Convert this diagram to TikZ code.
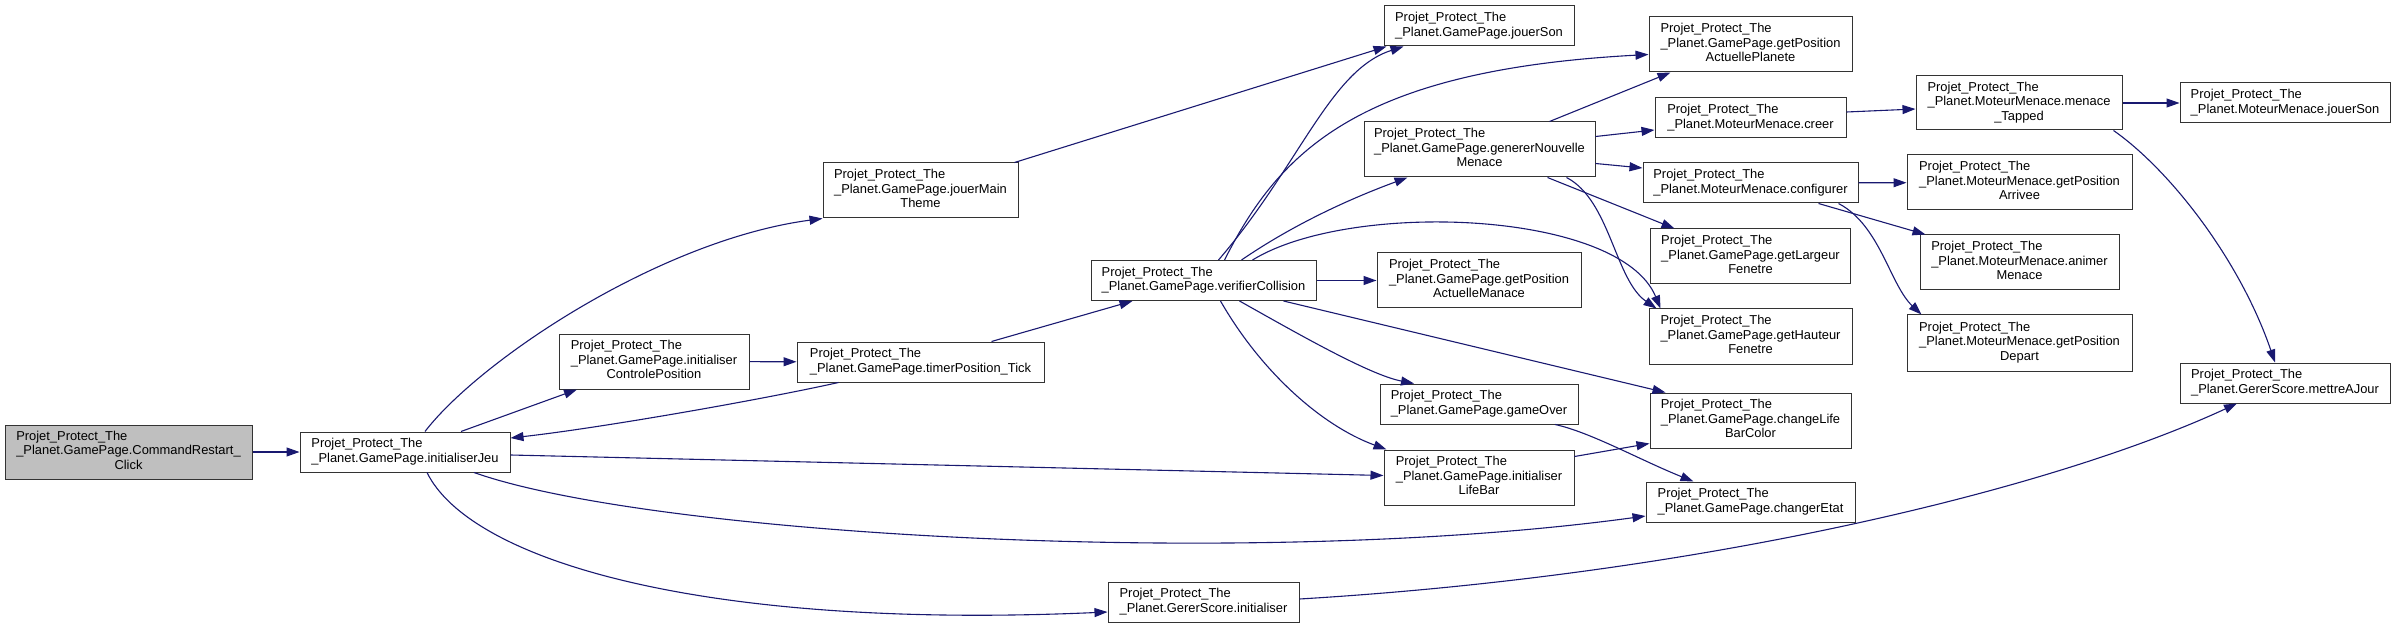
\documentclass[tikz,border=0pt]{standalone}
\usepackage{fontspec}
\setmainfont{Liberation Sans}
\usetikzlibrary{arrows.meta}
\definecolor{edgeblue}{HTML}{191970}
\definecolor{rootgray}{HTML}{BFBFBF}
\newcommand{\nameA}[1]{\begin{tabular}{@{}l@{}}Projet\_Protect\_The\\#1\end{tabular}}
\newcommand{\nameB}[2]{\begin{tabular}{@{}l@{}}Projet\_Protect\_The\\#1\\\multicolumn{1}{@{}c@{}}{#2}\end{tabular}}
\begin{document}
\begin{tikzpicture}[x=1pt,y=-1pt,
fn/.style={draw=black!80,fill=white,line width=1pt,inner sep=0pt,font=\fontsize{12.9}{14.4}\selectfont},
call/.style={draw=edgeblue,line width=1.1pt,-{Triangle[length=13pt,width=9pt]}}]
\useasboundingbox (0,0) rectangle (2396,628);
\node[fn,fill=rootgray,minimum width=247,minimum height=54] (crc) at (128.5,452) {\nameB{\_Planet.GamePage.CommandRestart\_}{Click}};
\node[fn,minimum width=210,minimum height=40] (ij) at (405,452) {\nameA{\_Planet.GamePage.initialiserJeu}};
\node[fn,minimum width=195,minimum height=55] (jmt) at (920.5,190.5) {\nameB{\_Planet.GamePage.jouerMain}{Theme}};
\node[fn,minimum width=190,minimum height=55] (icp) at (654,361.5) {\nameB{\_Planet.GamePage.initialiser}{ControlePosition}};
\node[fn,minimum width=247,minimum height=40] (tpt) at (920.5,362) {\nameA{\_Planet.GamePage.timerPosition\_Tick}};
\node[fn,minimum width=190,minimum height=40] (js) at (1479,26) {\nameA{\_Planet.GamePage.jouerSon}};
\node[fn,minimum width=231,minimum height=55] (gnm) at (1479.5,149.5) {\nameB{\_Planet.GamePage.genererNouvelle}{Menace}};
\node[fn,minimum width=225,minimum height=40] (vc) at (1203.5,280.5) {\nameA{\_Planet.GamePage.verifierCollision}};
\node[fn,minimum width=204,minimum height=55] (gpam) at (1479,280.5) {\nameB{\_Planet.GamePage.getPosition}{ActuelleManace}};
\node[fn,minimum width=198,minimum height=40] (go) at (1479,404) {\nameA{\_Planet.GamePage.gameOver}};
\node[fn,minimum width=190,minimum height=55] (ilb) at (1479,477.5) {\nameB{\_Planet.GamePage.initialiser}{LifeBar}};
\node[fn,minimum width=191,minimum height=40] (gsi) at (1203.5,602) {\nameA{\_Planet.GererScore.initialiser}};
\node[fn,minimum width=203,minimum height=55] (gpap) at (1750.5,44.5) {\nameB{\_Planet.GamePage.getPosition}{ActuellePlanete}};
\node[fn,minimum width=191,minimum height=40] (cr) at (1750.5,118) {\nameA{\_Planet.MoteurMenace.creer}};
\node[fn,minimum width=215,minimum height=40] (cf) at (1750.5,183) {\nameA{\_Planet.MoteurMenace.configurer}};
\node[fn,minimum width=200,minimum height=55] (glf) at (1750.5,256.5) {\nameB{\_Planet.GamePage.getLargeur}{Fenetre}};
\node[fn,minimum width=203,minimum height=55] (ghf) at (1750.5,336.5) {\nameB{\_Planet.GamePage.getHauteur}{Fenetre}};
\node[fn,minimum width=201,minimum height=55] (clbc) at (1750.5,420.5) {\nameB{\_Planet.GamePage.changeLife}{BarColor}};
\node[fn,minimum width=209,minimum height=40] (ce) at (1750.5,502) {\nameA{\_Planet.GamePage.changerEtat}};
\node[fn,minimum width=206,minimum height=54] (mt) at (2019,103) {\nameB{\_Planet.MoteurMenace.menace}{\_Tapped}};
\node[fn,minimum width=225,minimum height=55] (gpa) at (2019.5,182.5) {\nameB{\_Planet.MoteurMenace.getPosition}{Arrivee}};
\node[fn,minimum width=199,minimum height=55] (am) at (2019.5,262.5) {\nameB{\_Planet.MoteurMenace.animer}{Menace}};
\node[fn,minimum width=225,minimum height=56] (gpd) at (2019.5,343) {\nameB{\_Planet.MoteurMenace.getPosition}{Depart}};
\node[fn,minimum width=210,minimum height=40] (mjs) at (2285,103) {\nameA{\_Planet.MoteurMenace.jouerSon}};
\node[fn,minimum width=210,minimum height=40] (maj) at (2285,383) {\nameA{\_Planet.GererScore.mettreAJour}};
\draw[call] (crc) -- (ij);
\draw[call] ([xshift=20pt]ij.north) .. controls (480,360) and (660,240) .. (jmt.south west);
\draw[call] ([xshift=56pt]ij.north) -- ([xshift=-77pt]icp.south);
\draw[call] ([xshift=-82pt]tpt.south) .. controls (760,400) and (600,428) .. ([yshift=14pt]ij.east);
\draw[call] ([yshift=-3pt]ij.east) -- ([yshift=2pt]ilb.west);
\draw[call] ([xshift=69pt]ij.south) .. controls (650,535) and (1250,570) .. ([yshift=-14pt]ce.west);
\draw[call] ([xshift=22pt]ij.south) .. controls (470,560) and (700,630) .. ([yshift=-10pt]gsi.west);
\draw[call] (icp) -- (tpt);
\draw[call] ([xshift=71pt]tpt.north) -- ([xshift=-71pt]vc.south);
\draw[call] ([xshift=94pt]jmt.north) -- ([xshift=3pt]js.south west);
\draw[call] ([xshift=15pt]vc.north) .. controls (1300,165) and (1330,70) .. ([xshift=20pt]js.south west);
\draw[call] ([xshift=21pt]vc.north) .. controls (1280,150) and (1360,70) .. ([yshift=-10pt]gpap.west);
\draw[call] ([xshift=38pt]vc.north) .. controls (1300,220) and (1360,195) .. ([xshift=-72pt]gnm.south);
\draw[call] ([xshift=49pt]vc.north) .. controls (1350,200) and (1620,210) .. ([xshift=12pt]ghf.north west);
\draw[call] (vc) -- (gpam);
\draw[call] ([xshift=36pt]vc.south) .. controls (1300,335) and (1370,375) .. ([xshift=-65pt]go.north);
\draw[call] ([xshift=17pt]vc.south) .. controls (1260,370) and (1320,425) .. ([xshift=3pt]ilb.north west);
\draw[call] ([xshift=80pt]vc.south) -- ([xshift=16pt]clbc.north west);
\draw[call] ([xshift=70pt]gnm.north) -- ([xshift=22pt]gpap.south west);
\draw[call] ([yshift=13pt]gnm.east) -- ([yshift=-12pt]cr.west);
\draw[call] ([yshift=-14pt]gnm.east) -- ([yshift=15pt]cf.west);
\draw[call] ([xshift=68pt]gnm.south) -- ([xshift=-76pt]glf.north);
\draw[call] ([xshift=87pt]gnm.south) .. controls (1610,200) and (1615,280) .. ([xshift=8pt]ghf.north west);
\draw[call] ([yshift=6pt]cr.east) -- ([yshift=-6pt]mt.west);
\draw[call] (mt) -- (mjs);
\draw[call] ([xshift=-9pt]mt.south east) .. controls (2170,170) and (2240,260) .. ([xshift=-10pt]maj.north);
\draw[call] (cf) -- (gpa);
\draw[call] ([xshift=68pt]cf.south) -- ([xshift=6pt]am.north west);
\draw[call] ([xshift=88pt]cf.south) .. controls (1880,225) and (1890,285) .. ([xshift=15pt]gpd.north west);
\draw[call] ([xshift=76pt]go.south) .. controls (1590,432) and (1640,460) .. ([xshift=-57pt]ce.north);
\draw[call] ([yshift=-7pt]ilb.north east) -- ([yshift=5pt]clbc.south west);
\draw[call] ([yshift=3pt]gsi.east) .. controls (1700,575) and (2050,490) .. ([xshift=-48pt]maj.south);
\end{tikzpicture}
\end{document}
